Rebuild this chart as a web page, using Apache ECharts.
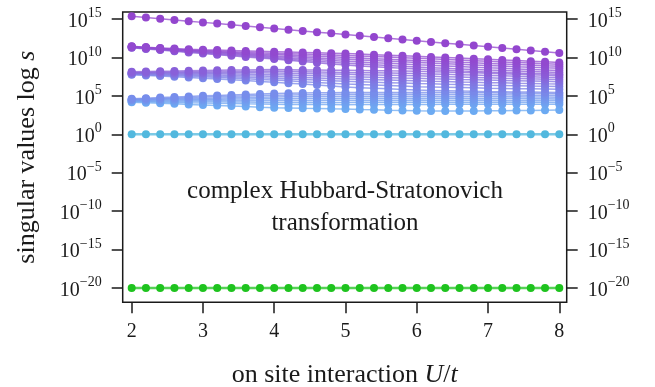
<!DOCTYPE html>
<html>
<head>
<meta charset="utf-8">
<script src="https://cdn.jsdelivr.net/npm/echarts@6/dist/echarts.min.js"></script>
<style>
  html, body { margin: 0; padding: 0; background: #fff; }
  #chart { width: 655px; height: 387px; }
</style>
</head>
<body>
<div id="chart"></div>
<script>
// On-site interaction U/t
const U = [2.0, 2.2, 2.4, 2.6, 2.8, 3.0, 3.2, 3.4, 3.6, 3.8, 4.0, 4.2, 4.4, 4.6, 4.8, 5.0,
           5.2, 5.4, 5.6, 5.8, 6.0, 6.2, 6.4, 6.6, 6.8, 7.0, 7.2, 7.4, 7.6, 7.8, 8.0];

// Tick positions: x in U/t, y in decades (log10 s)
const X_TICKS = [2, 3, 4, 5, 6, 7, 8];
const Y_TICKS = [-20, -15, -10, -5, 0, 5, 10, 15];

// Singular values, stored as log10 s, smallest first
const sZero = [-20, -20, -20, -20, -20, -20, -20, -20, -20, -20, -20, -20, -20, -20, -20, -20,
               -20, -20, -20, -20, -20, -20, -20, -20, -20, -20, -20, -20, -20, -20, -20];
const sUnit = [0, 0, 0, 0, 0, 0, 0, 0, 0, 0, 0, 0, 0, 0, 0, 0,
               0, 0, 0, 0, 0, 0, 0, 0, 0, 0, 0, 0, 0, 0, 0];

const sLow8 = [4.18, 4.11, 4.04, 3.96, 3.89, 3.82, 3.75, 3.67, 3.60, 3.52, 3.45, 3.42, 3.38, 3.35, 3.31, 3.28,
               3.23, 3.19, 3.14, 3.10, 3.05, 3.03, 3.02, 3.02, 3.03, 3.05, 3.07, 3.09, 3.11, 3.13, 3.15];
const sLow7 = [4.25, 4.22, 4.18, 4.15, 4.11, 4.08, 4.04, 4.01, 3.97, 3.94, 3.90, 3.89, 3.88, 3.87, 3.86, 3.85,
               3.86, 3.86, 3.87, 3.87, 3.88, 3.89, 3.90, 3.90, 3.91, 3.92, 3.92, 3.92, 3.92, 3.92, 3.92];
const sLow6 = [4.32, 4.31, 4.29, 4.28, 4.26, 4.25, 4.23, 4.21, 4.19, 4.17, 4.15, 4.15, 4.15, 4.15, 4.15, 4.15,
               4.16, 4.16, 4.17, 4.17, 4.18, 4.18, 4.18, 4.18, 4.18, 4.18, 4.17, 4.17, 4.16, 4.16, 4.15];
const sLow5 = [4.40, 4.40, 4.41, 4.41, 4.42, 4.42, 4.42, 4.41, 4.41, 4.40, 4.40, 4.40, 4.41, 4.41, 4.42, 4.42,
               4.43, 4.43, 4.44, 4.44, 4.45, 4.44, 4.44, 4.43, 4.43, 4.42, 4.41, 4.40, 4.40, 4.39, 4.38];
const sLow4 = [4.45, 4.47, 4.49, 4.51, 4.53, 4.55, 4.56, 4.58, 4.59, 4.61, 4.62, 4.63, 4.64, 4.66, 4.67, 4.68,
               4.68, 4.69, 4.69, 4.70, 4.70, 4.69, 4.68, 4.68, 4.67, 4.66, 4.65, 4.64, 4.62, 4.61, 4.60];
const sLow3 = [4.50, 4.54, 4.58, 4.62, 4.66, 4.70, 4.73, 4.76, 4.79, 4.82, 4.85, 4.87, 4.89, 4.91, 4.93, 4.95,
               4.95, 4.95, 4.95, 4.95, 4.95, 4.94, 4.93, 4.92, 4.91, 4.90, 4.88, 4.87, 4.85, 4.84, 4.82];
const sLow2 = [4.55, 4.61, 4.67, 4.73, 4.79, 4.85, 4.90, 4.94, 4.99, 5.03, 5.08, 5.10, 5.13, 5.15, 5.18, 5.20,
               5.20, 5.20, 5.20, 5.20, 5.20, 5.19, 5.18, 5.17, 5.16, 5.15, 5.13, 5.11, 5.09, 5.07, 5.05];
const sLow1 = [4.62, 4.70, 4.78, 4.85, 4.93, 5.00, 5.06, 5.12, 5.18, 5.24, 5.30, 5.33, 5.36, 5.39, 5.42, 5.45,
               5.45, 5.45, 5.45, 5.45, 5.45, 5.44, 5.43, 5.42, 5.41, 5.40, 5.38, 5.35, 5.33, 5.30, 5.28];

const sMid8 = [7.75, 7.66, 7.57, 7.48, 7.39, 7.30, 7.20, 7.09, 6.99, 6.88, 6.78, 6.65, 6.53, 6.40, 6.28, 6.15,
               6.07, 5.99, 5.91, 5.83, 5.75, 5.71, 5.67, 5.63, 5.59, 5.55, 5.53, 5.51, 5.49, 5.47, 5.45];
const sMid7 = [7.80, 7.74, 7.67, 7.61, 7.54, 7.48, 7.39, 7.31, 7.22, 7.14, 7.05, 6.95, 6.85, 6.75, 6.65, 6.55,
               6.48, 6.41, 6.34, 6.27, 6.20, 6.16, 6.12, 6.08, 6.04, 6.00, 5.97, 5.94, 5.91, 5.88, 5.85];
const sMid6 = [7.85, 7.80, 7.76, 7.71, 7.67, 7.62, 7.55, 7.49, 7.42, 7.35, 7.28, 7.20, 7.13, 7.05, 6.98, 6.90,
               6.84, 6.78, 6.72, 6.66, 6.60, 6.56, 6.51, 6.47, 6.42, 6.38, 6.35, 6.32, 6.28, 6.25, 6.22];
const sMid5 = [7.90, 7.87, 7.84, 7.81, 7.78, 7.75, 7.70, 7.66, 7.61, 7.57, 7.52, 7.46, 7.39, 7.33, 7.26, 7.20,
               7.15, 7.10, 7.05, 7.00, 6.95, 6.90, 6.86, 6.81, 6.77, 6.72, 6.69, 6.65, 6.62, 6.58, 6.55];
const sMid4 = [7.95, 7.94, 7.93, 7.92, 7.91, 7.90, 7.87, 7.84, 7.81, 7.78, 7.75, 7.70, 7.65, 7.60, 7.55, 7.50,
               7.46, 7.41, 7.37, 7.32, 7.28, 7.23, 7.19, 7.14, 7.10, 7.05, 7.01, 6.97, 6.93, 6.89, 6.85];
const sMid3 = [8.00, 8.00, 8.01, 8.01, 8.02, 8.02, 8.01, 8.00, 7.99, 7.99, 7.98, 7.94, 7.91, 7.87, 7.84, 7.80,
               7.76, 7.72, 7.68, 7.64, 7.60, 7.55, 7.50, 7.45, 7.40, 7.35, 7.30, 7.26, 7.21, 7.17, 7.12];
const sMid2 = [8.05, 8.07, 8.09, 8.11, 8.13, 8.15, 8.16, 8.17, 8.18, 8.19, 8.20, 8.17, 8.14, 8.11, 8.08, 8.05,
               8.02, 7.99, 7.96, 7.93, 7.90, 7.85, 7.80, 7.75, 7.70, 7.65, 7.60, 7.54, 7.49, 7.43, 7.38];
const sMid1 = [8.12, 8.16, 8.20, 8.23, 8.27, 8.30, 8.33, 8.36, 8.38, 8.40, 8.42, 8.40, 8.38, 8.36, 8.34, 8.32,
               8.30, 8.28, 8.25, 8.23, 8.20, 8.15, 8.10, 8.05, 8.00, 7.95, 7.88, 7.82, 7.75, 7.69, 7.62];

const sUp7 = [11.25, 11.10, 10.95, 10.80, 10.65, 10.50, 10.36, 10.21, 10.07, 9.92, 9.78, 9.62, 9.47, 9.31, 9.16, 9.00,
              8.90, 8.79, 8.69, 8.58, 8.48, 8.40, 8.33, 8.25, 8.18, 8.10, 8.04, 7.98, 7.92, 7.86, 7.80];
const sUp6 = [11.30, 11.16, 11.02, 10.88, 10.74, 10.60, 10.46, 10.32, 10.18, 10.04, 9.90, 9.77, 9.64, 9.51, 9.38, 9.25,
              9.15, 9.05, 8.95, 8.85, 8.75, 8.67, 8.59, 8.51, 8.43, 8.35, 8.29, 8.23, 8.17, 8.11, 8.05];
const sUp5 = [11.34, 11.21, 11.07, 10.94, 10.81, 10.68, 10.55, 10.43, 10.30, 10.18, 10.05, 9.94, 9.83, 9.72, 9.61, 9.50,
              9.41, 9.32, 9.23, 9.14, 9.05, 8.97, 8.89, 8.81, 8.73, 8.65, 8.58, 8.51, 8.44, 8.37, 8.30];
const sUp4 = [11.37, 11.24, 11.11, 10.98, 10.86, 10.75, 10.64, 10.53, 10.42, 10.31, 10.20, 10.11, 10.02, 9.93, 9.84, 9.75,
              9.67, 9.59, 9.51, 9.43, 9.35, 9.27, 9.19, 9.11, 9.03, 8.95, 8.88, 8.80, 8.73, 8.65, 8.58];
const sUp3 = [11.40, 11.27, 11.14, 11.02, 10.92, 10.82, 10.73, 10.64, 10.55, 10.46, 10.38, 10.30, 10.23, 10.15, 10.08, 10.00,
              9.92, 9.84, 9.76, 9.68, 9.60, 9.52, 9.45, 9.37, 9.30, 9.22, 9.15, 9.07, 9.00, 8.92, 8.85];
const sUp2 = [11.42, 11.30, 11.18, 11.07, 10.98, 10.90, 10.82, 10.75, 10.68, 10.61, 10.55, 10.49, 10.43, 10.37, 10.31, 10.25,
              10.18, 10.11, 10.04, 9.97, 9.90, 9.82, 9.74, 9.66, 9.58, 9.50, 9.42, 9.34, 9.26, 9.18, 9.10];
const sUp1 = [11.45, 11.34, 11.24, 11.15, 11.07, 11.00, 10.95, 10.90, 10.85, 10.80, 10.75, 10.70, 10.65, 10.60, 10.55, 10.50,
              10.43, 10.36, 10.29, 10.22, 10.15, 10.07, 9.99, 9.91, 9.83, 9.75, 9.67, 9.59, 9.51, 9.43, 9.35];

const sTop = [15.35, 15.19, 15.03, 14.87, 14.72, 14.56, 14.40, 14.24, 14.08, 13.92, 13.77, 13.61, 13.45, 13.29, 13.13, 12.97,
              12.81, 12.66, 12.50, 12.34, 12.18, 12.02, 11.86, 11.70, 11.55, 11.39, 11.23, 11.07, 10.91, 10.75, 10.59];

// Large singular values, ordered from smallest to largest (colour runs blue -> purple)
const LARGE = [sLow8, sLow7, sLow6, sLow5, sLow4, sLow3, sLow2, sLow1,
               sMid8, sMid7, sMid6, sMid5, sMid4, sMid3, sMid2, sMid1,
               sUp7, sUp6, sUp5, sUp4, sUp3, sUp2, sUp1, sTop];

const SERIF = "'Liberation Serif', 'Times New Roman', 'DejaVu Serif', serif";
const INK = '#1a1a1a';

// colour ramp for the large singular values
const RAMP = [[0x6c, 0xaa, 0xf2], [0x78, 0x8a, 0xea], [0x8a, 0x5e, 0xd8], [0x93, 0x46, 0xce]];
function rampColor(t) {
  const p = t * (RAMP.length - 1);
  const i = Math.min(Math.floor(p), RAMP.length - 2);
  const f = p - i;
  const c = RAMP[i].map((v, k) => Math.round(v + (RAMP[i + 1][k] - v) * f));
  return 'rgb(' + c.join(',') + ')';
}

function lineSeries(values, color, width) {
  return {
    type: 'line',
    data: U.map((u, i) => [u, values[i]]),
    symbol: 'circle',
    symbolSize: 8,
    showSymbol: true,
    itemStyle: { color: color },
    lineStyle: { color: color, width: width, opacity: 0.75 },
    emphasis: { disabled: true },
    animation: false,
    z: 2
  };
}

const series = [];
series.push(lineSeries(sZero, '#1ec31e', 2.5));
series.push(lineSeries(sUnit, '#52b8de', 2.5));
LARGE.forEach((vals, i) => {
  series.push(lineSeries(vals, rampColor(i / (LARGE.length - 1)), 1.5));
});

function expLabel(v) {
  const e = Math.round(v);
  const sup = e < 0 ? '\u2212' + (-e) : String(e);
  return '{b|10}{s|' + sup + '}';
}

const labelRich = {
  b: { fontSize: 20, fontFamily: SERIF, color: INK, verticalAlign: 'bottom', lineHeight: 25 },
  s: { fontSize: 14, fontFamily: SERIF, color: INK, verticalAlign: 'top', lineHeight: 25 }
};

function yAxisDef(pos) {
  return {
    type: 'value',
    position: pos,
    min: -21.86,
    max: 15.91,
    splitLine: { show: false },
    axisLine: { show: false, onZero: false },
    axisTick: {
      show: true, length: 11, customValues: Y_TICKS,
      lineStyle: { color: INK, width: 1.5 }
    },
    axisLabel: {
      customValues: Y_TICKS,
      margin: 21,
      formatter: expLabel,
      rich: labelRich
    }
  };
}

const chart = echarts.init(document.getElementById('chart'), null, { renderer: 'canvas' });
const left = yAxisDef('left');
left.name = 'singular values log {i|s}';
left.nameLocation = 'middle';
left.nameGap = 83;
left.nameTextStyle = {
  fontSize: 26, fontFamily: SERIF, color: INK,
  rich: { i: { fontSize: 26, fontFamily: SERIF, fontStyle: 'italic', color: INK } }
};

chart.setOption({
  backgroundColor: '#fff',
  animation: false,
  grid: {
    left: 122.7, right: 88.3, top: 12, bottom: 84.7,
    outerBoundsMode: 'none',
    containLabel: false,
    show: true, borderColor: INK, borderWidth: 1.5, backgroundColor: 'transparent'
  },
  xAxis: {
    type: 'value',
    min: 1.874,
    max: 8.104,
    splitLine: { show: false },
    axisLine: { show: false, onZero: false },
    axisTick: {
      show: true, length: 11, customValues: X_TICKS,
      lineStyle: { color: INK, width: 1.5 }
    },
    axisLabel: {
      customValues: X_TICKS,
      margin: 19,
      fontSize: 20, fontFamily: SERIF, color: INK
    },
    name: 'on site interaction {i|U}/{i|t}',
    nameLocation: 'middle',
    nameGap: 60,
    nameTextStyle: {
      fontSize: 26, fontFamily: SERIF, color: INK,
      rich: { i: { fontSize: 26, fontFamily: SERIF, fontStyle: 'italic', color: INK } }
    }
  },
  yAxis: [left, yAxisDef('right')],
  graphic: [{
    type: 'text',
    z: 10,
    style: {
      text: 'complex Hubbard-Stratonovich\ntransformation',
      x: 345, y: 207,
      textAlign: 'center', textVerticalAlign: 'middle',
      align: 'center', verticalAlign: 'middle',
      font: '25px ' + SERIF,
      lineHeight: 32,
      fill: INK
    }
  }],
  series: series
});
</script>
</body>
</html>
